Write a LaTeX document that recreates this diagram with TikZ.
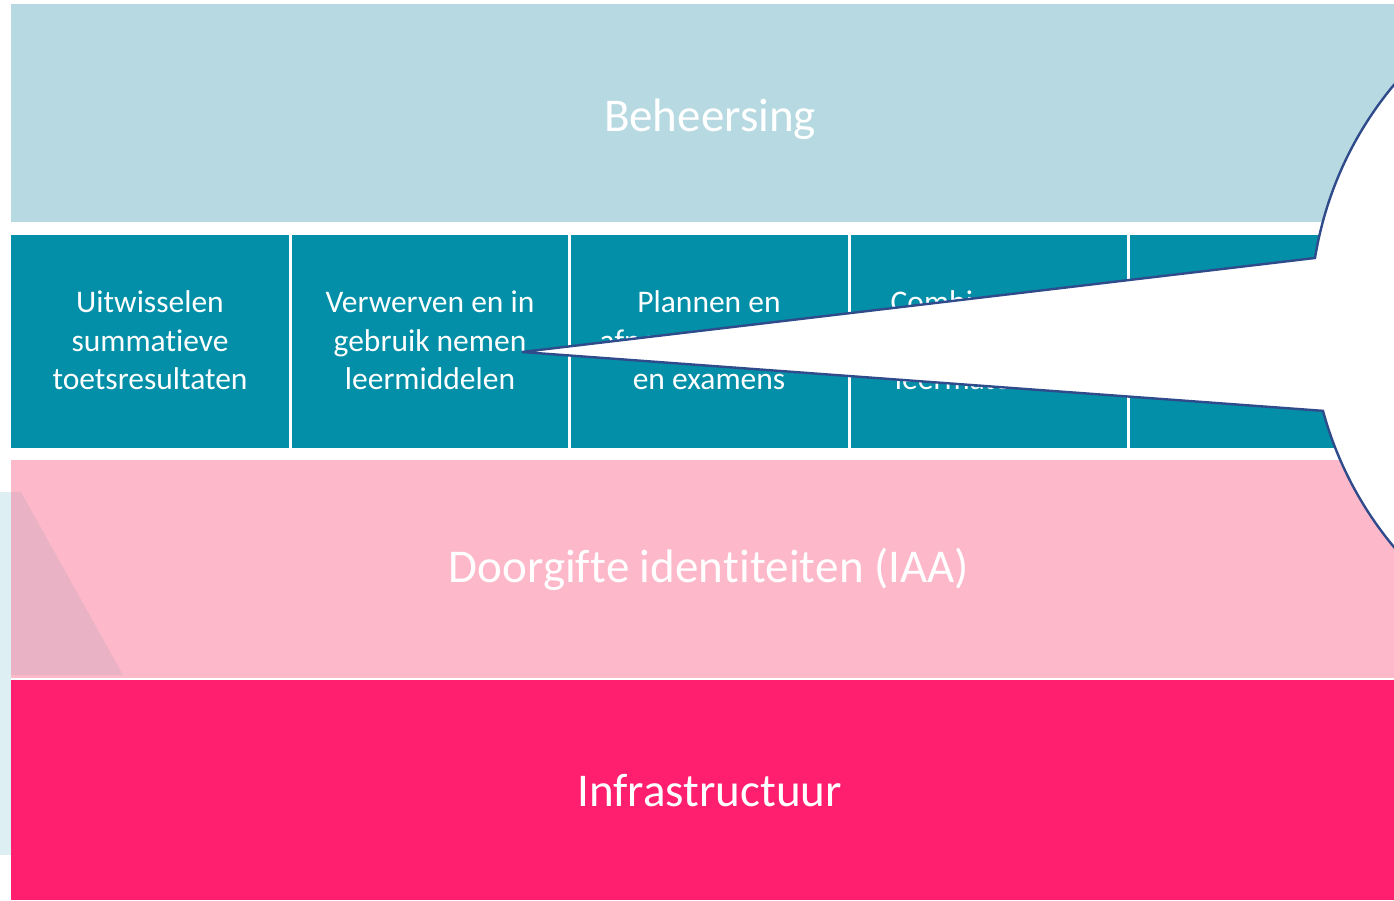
\documentclass[tikz,border=0pt]{standalone}
\usepackage{fontspec}
\setmainfont{Carlito}[RawFeature={-liga;-clig;-dlig;-calt}]
\newcommand\nolig{\kern0pt\relax}
\definecolor{behblue}{HTML}{B7D9E1}
\definecolor{tealbox}{HTML}{038FA7}
\definecolor{pinkband}{HTML}{FDB8CA}
\definecolor{magband}{HTML}{FF1F6E}
\definecolor{outlineblue}{HTML}{2F4B8B}
\definecolor{stripblue}{HTML}{DDEFF3}
\definecolor{trappink}{HTML}{EAB3C5}
\begin{document}
\begin{tikzpicture}[x=1pt,y=1pt,
  band/.style={anchor=south west, inner sep=0pt, outer sep=0pt, draw=none, rectangle},
  tbox/.style={band, fill=tealbox, minimum height=213pt},
  title/.style={anchor=base, inner sep=0pt, text=white, font=\fontsize{47}{57}\selectfont},
  btext/.style={anchor=base, inner sep=0pt, text=white, font=\fontsize{31.5}{38.5}\selectfont},
  callout/.style={fill=white, draw=outlineblue, line width=2.4pt, line join=miter}
]
\useasboundingbox (0,0) rectangle (1394,900);
\clip (0,0) rectangle (1394,900);

% left ghost strip
\fill[stripblue] (0,45) rectangle (11,408);

% bands
\node[band, fill=behblue, minimum width=1383pt, minimum height=218pt] (beh) at (11,678) {};
\node[tbox, minimum width=278pt] (b1) at (11,452) {};
\node[tbox, minimum width=276pt] (b2) at (292,452) {};
\node[tbox, minimum width=277pt] (b3) at (571,452) {};
\node[tbox, minimum width=276pt] (b4) at (851,452) {};
\node[tbox, minimum width=264pt] (b5) at (1130,452) {};
\node[band, fill=pinkband, minimum width=1383pt, minimum height=218pt] (iaa) at (11,222) {};
\node[band, fill=magband, minimum width=1383pt, minimum height=220pt] (infra) at (11,0) {};

% translucent trapezoid over pink band
\fill[trappink] (11,408) -- (21,408) -- (123,225) -- (11,225) -- cycle;

% titles
\node[title] (behT) at (710,768) {Beheersing};
\node[title] (iaaT) at (709,317) {Doorgif\nolig t\nolig e iden\nolig t\nolig it\nolig ei\nolig t\nolig en (IAA)};
\node[title] (infraT) at (709.5,94) {Infrastructuur};

% box texts
\node[btext] (t1) at (150,587) {\begin{tabular}[t]{@{}c@{}}Uitwisselen\\summat\nolig ieve\\toetsresultaten\end{tabular}};
\node[btext] (t2) at (430,587) {\begin{tabular}[t]{@{}c@{}}Verwerven en in\\gebruik nemen\\leermiddelen\end{tabular}};
\node[btext] (t3) at (709,587) {\begin{tabular}[t]{@{}c@{}}Plannen en\\afnemen toetsen\\en examens\end{tabular}};
\node[btext] (t4) at (989,587) {\begin{tabular}[t]{@{}c@{}}Combineren en\\\phantom{x}\\leermaterialen\end{tabular}};

% callout
\coordinate (tip) at (522,548);
\coordinate (upper) at (1315,642);
\draw[callout] (tip) -- (upper) arc[start angle=170.75, end angle=-164.77, radius=361] -- cycle;
\end{tikzpicture}
\end{document}
